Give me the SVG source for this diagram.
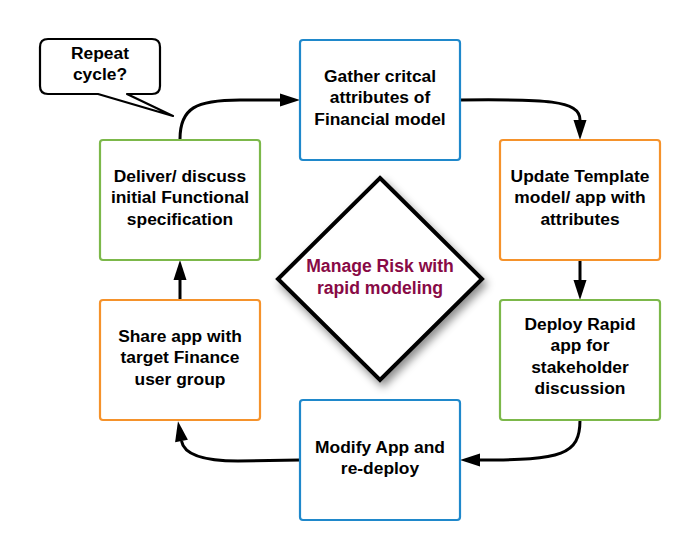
<svg xmlns="http://www.w3.org/2000/svg" width="700" height="560" viewBox="0 0 700 560">
<defs>
<marker id="ah" markerUnits="userSpaceOnUse" markerWidth="22" markerHeight="14" refX="0" refY="6.5" orient="auto" overflow="visible">
<path d="M0,0 L20,6.5 L0,13 Z" fill="#000"/>
</marker>
<filter id="sh" x="-30%" y="-30%" width="160%" height="160%">
<feDropShadow dx="3" dy="5" stdDeviation="4" flood-color="#000" flood-opacity="0.45"/>
</filter>
</defs>
<style>
.box{fill:#fff;stroke-width:2.2}
.blue{stroke:#1f88cb}
.orange{stroke:#f5922b}
.green{stroke:#7cb84a}
.t{font-family:"Liberation Sans",Arial,sans-serif;font-weight:bold;font-size:17.4px;fill:#000;text-anchor:middle}
.dt{fill:#880a46;font-size:17.6px}
.c{fill:none;stroke:#000;stroke-width:3;marker-end:url(#ah)}
</style>
<rect width="700" height="560" fill="#fff"/>
<g id="connectors">
<path class="c" d="M180,139 C180,108 196,100 240,100 L280,100"/>
<path class="c" d="M460,100 C545,99 580,100 580,120"/>
<path class="c" d="M580,260 L580,280"/>
<path class="c" d="M580,420 C580,455 562,460 480,460"/>
<path class="c" d="M300,460 L238,461 C203,461 184,455 181.5,441"/>
<path class="c" d="M180,300 L180,280"/>
</g>
<g id="callout">
<path d="M48,39 L152,39 Q160,39 160,47 L160,86 Q160,94 152,94 L127,94 L173,116 L98,94 L48,94 Q40,94 40,86 L40,47 Q40,39 48,39 Z" fill="#fff" stroke="#000" stroke-width="2.2" stroke-linejoin="round"/>
<text class="t" x="100" y="59">Repeat</text>
<text class="t" x="100" y="80">cycle?</text>
</g>
<g id="n1">
<rect class="box blue" x="300" y="40" width="160" height="120" rx="3"/>
<text class="t" x="380" y="81.5">Gather critcal</text>
<text class="t" x="380" y="103">attributes of</text>
<text class="t" x="380" y="124.5">Financial model</text>
</g>
<g id="n2">
<rect class="box orange" x="500" y="140" width="160" height="120" rx="3"/>
<text class="t" x="580" y="181.5">Update Template</text>
<text class="t" x="580" y="203">model/ app with</text>
<text class="t" x="580" y="224.5">attributes</text>
</g>
<g id="n3">
<rect class="box green" x="500" y="300" width="160" height="120" rx="3"/>
<text class="t" x="580" y="329.5">Deploy Rapid</text>
<text class="t" x="580" y="351">app for</text>
<text class="t" x="580" y="372.5">stakeholder</text>
<text class="t" x="580" y="394">discussion</text>
</g>
<g id="n4">
<rect class="box blue" x="300" y="400" width="160" height="120" rx="3"/>
<text class="t" x="380" y="452.5">Modify App and</text>
<text class="t" x="380" y="474">re-deploy</text>
</g>
<g id="n5">
<rect class="box orange" x="100" y="300" width="160" height="120" rx="3"/>
<text class="t" x="180" y="341.5">Share app with</text>
<text class="t" x="180" y="363">target Finance</text>
<text class="t" x="180" y="384.5">user group</text>
</g>
<g id="n6">
<rect class="box green" x="100" y="140" width="160" height="120" rx="3"/>
<text class="t" x="180" y="181.5">Deliver/ discuss</text>
<text class="t" x="180" y="203">initial Functional</text>
<text class="t" x="180" y="224.5">specification</text>
</g>
<g id="center">
<polygon points="380,178 482,279 380,380 278,279" fill="#fff" stroke="#000" stroke-width="4" stroke-linejoin="miter" filter="url(#sh)"/>
<text class="t dt" x="380" y="271.5">Manage Risk with</text>
<text class="t dt" x="380" y="294">rapid modeling</text>
</g>
</svg>
